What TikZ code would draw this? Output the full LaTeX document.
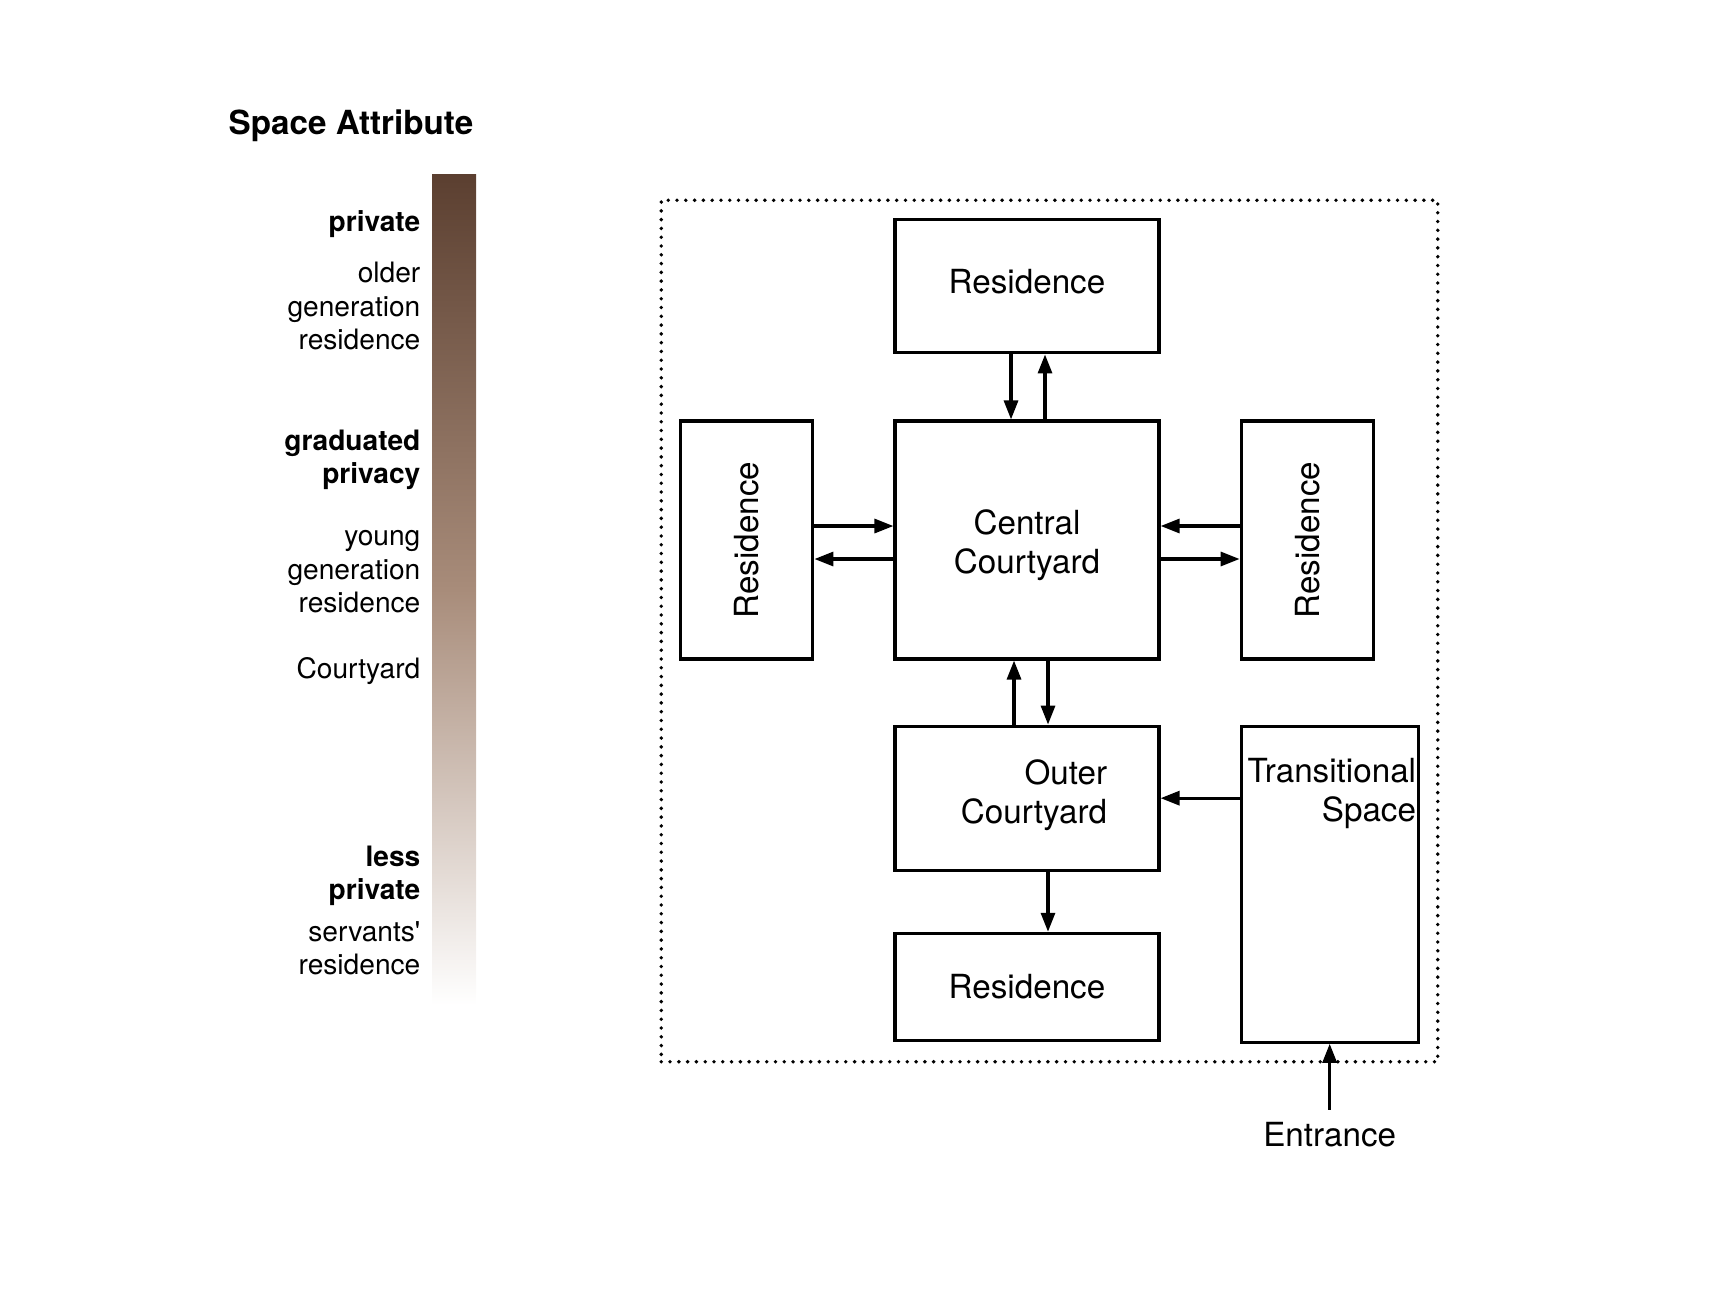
\documentclass[tikz,border=0pt]{standalone}
\usepackage{fontspec}
\setmainfont{TeX Gyre Heros}
\usetikzlibrary{arrows.meta,positioning,fit}
\definecolor{bartop}{HTML}{5B3F30}
\definecolor{barmid}{HTML}{A88C7A}

\begin{document}
\begin{tikzpicture}[x=0.1mm, y=-0.1mm, node distance=6.5mm and 7.9mm,
    every node/.style={font=\fontsize{9.45}{11.2}\selectfont},
    room/.style={draw, line width=0.9pt, minimum width=26.4mm, inner sep=1mm, align=center},
    side/.style={draw, line width=0.9pt, minimum width=13.2mm, minimum height=23.8mm},
    flow/.style={-{Triangle[length=1.9mm,width=1.4mm]}, line width=0.9pt},
    attr/.style={anchor=east, inner sep=0pt, align=right, font=\fontsize{8}{9.5}\selectfont},
    attrb/.style={attr, font=\bfseries\fontsize{8}{9.5}\selectfont}]
  \useasboundingbox (0,0) rectangle (1722,1292);

  % privacy scale
  \node[anchor=east, inner sep=0pt, font=\bfseries\fontsize{9.45}{11}\selectfont] (title) at (474,126) {Space Attribute};
  \shade[top color=bartop, bottom color=white, middle color=barmid] (432,174) rectangle (476,1005);
  \node[attrb] (private) at (421,224) {private};
  \node[attr] (older) at (421,306) {older\\generation\\residence};
  \node[attrb] (graduated) at (421,460) {graduated\\privacy};
  \node[attr] (young) at (421,572) {young\\generation\\residence};
  \node[attr] (yard) at (421,671) {Courtyard};
  \node[attrb] (less) at (421,876) {less\\private};
  \node[attr] (servants) at (421,948) {servants\textquotesingle\\residence};

  % house plan
  \node[room, minimum height=23.8mm, text height=7.4mm] (cc) at (1027,540) {Central\\Courtyard};
  \node[room, minimum height=13.3mm, text depth=1mm, above=of cc] (resT) {Residence};
  \node[side, left=of cc] (resL) {\rotatebox{90}{Residence}};
  \node[side, right=of cc] (resR) {\rotatebox{90}{Residence}};
  \node[room, minimum height=14.4mm, below=6.4mm of cc] (outer) {};
  \node[align=right, inner sep=0pt] (outertext) at ([xshift=0.7mm, yshift=0.3mm]outer.center) {Outer\\Courtyard};
  \node[room, minimum height=10.7mm, below=6.0mm of outer] (resB) {Residence};
  \node[draw, line width=0.9pt, minimum width=17.7mm, minimum height=31.6mm, right=7.9mm of outer.north east, anchor=north west] (trans) {};
  \node[anchor=north east, align=right, inner xsep=0.3mm, inner ysep=3.3mm] (transtext) at (trans.north east) {Transitional\\Space};
  \node[below=6.6mm of trans] (entr) {Entrance};
  \node[draw, line width=1.1pt, dash pattern=on 0pt off 2.5pt, line cap=round, fit=(resT)(resL)(trans)(resB), inner sep=1.8mm] (court) {};

  \foreach \a/\b/\d in {resT.south/cc.north/-1.6mm, cc.north/resT.south/1.8mm, outer.north/cc.south/-1.3mm, cc.south/outer.north/2.1mm, outer.south/resB.north/2.1mm}{\draw[flow] ([xshift=\d]\a) -- ([xshift=\d]\b);}
  \foreach \a/\b/\d in {resL.east/cc.west/1.4mm, cc.west/resL.east/-1.9mm, resR.west/cc.east/1.4mm, cc.east/resR.west/-1.9mm}{\draw[flow] ([yshift=\d]\a) -- ([yshift=\d]\b);}
  \draw[flow] (trans.west |- outer.east) -- (outer.east);
  \draw[flow] (entr) -- (trans);
\end{tikzpicture}
\end{document}
